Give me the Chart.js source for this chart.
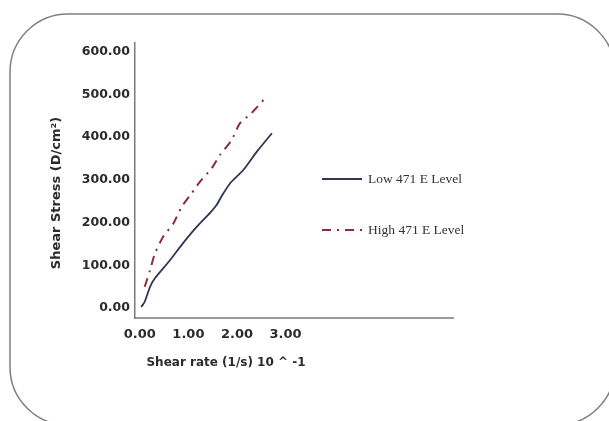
<!DOCTYPE html>
<html>
<head>
<meta charset="utf-8">
<title>Shear stress vs shear rate</title>
<script src="https://cdn.jsdelivr.net/npm/chart.js@4.4.0/dist/chart.umd.min.js"></script>
<style>
  html, body { margin: 0; padding: 0; background: #fff; }
  #wrap { width: 609px; height: 421px; }
</style>
</head>
<body>
<div id="wrap"><canvas id="chartShear" width="609" height="421"></canvas></div>
<script>
// values
var xTicks = [0, 1, 2, 3];
var yTicks = [0, 100, 200, 300, 400, 500, 600];
var lowRate    = [0.03, 0.10, 0.21, 0.31, 0.62, 0.89, 1.17, 1.44, 1.58, 1.68, 1.86, 2.13, 2.41, 2.72];
var lowStress  = [3, 15, 50, 70, 112, 152, 190, 222, 241, 261, 292, 323, 366, 409];
var highRate   = [0.10, 0.21, 0.31, 0.48, 0.69, 0.86, 1.07, 1.24, 1.48, 1.65, 1.89, 2.06, 2.30, 2.58];
var highStress = [50, 89, 128, 167, 198, 237, 269, 296, 327, 358, 393, 432, 456, 491];
var seriesNames = ['Low 471 E Level', 'High 471 E Level'];
var xTitle = 'Shear rate (1/s) 10 ^ -1';
var yTitle = 'Shear Stress (D/cm\u00B2)';

function toPoints(xs, ys) {
  return xs.map(function (x, i) { return { x: x, y: ys[i] }; });
}

// frame, legend and axis titles drawn around the chart
var extras = {
  id: 'extras',
  beforeDraw: function (chart) {
    var ctx = chart.ctx;
    ctx.save();
    ctx.beginPath();
    ctx.roundRect(10, 14, 605, 411, 58);
    ctx.strokeStyle = '#808080';
    ctx.lineWidth = 1.5;
    ctx.stroke();
    ctx.restore();
  },
  afterDraw: function (chart) {
    var ctx = chart.ctx;
    var rows = [179, 230];
    ctx.save();
    chart.data.datasets.forEach(function (ds, i) {
      ctx.beginPath();
      ctx.setLineDash(ds.borderDash || []);
      ctx.strokeStyle = ds.borderColor;
      ctx.lineWidth = ds.borderWidth;
      ctx.moveTo(322, rows[i]);
      ctx.lineTo(362, rows[i]);
      ctx.stroke();
      ctx.setLineDash([]);
      ctx.fillStyle = '#333';
      ctx.font = '13.5px "Liberation Serif"';
      ctx.textBaseline = 'middle';
      ctx.textAlign = 'left';
      ctx.fillText(ds.label, 368, rows[i]);
    });
    ctx.fillStyle = '#2b2b2b';
    ctx.textAlign = 'center';
    ctx.textBaseline = 'middle';
    ctx.font = 'bold 12px "DejaVu Sans"';
    ctx.fillText(xTitle, 226, 363);
    ctx.translate(57, 193);
    ctx.rotate(-Math.PI / 2);
    ctx.font = 'bold 13px "DejaVu Sans"';
    ctx.fillText(yTitle, 0, 0);
    ctx.restore();
  }
};

var ctx = document.getElementById('chartShear').getContext('2d');
var chart = new Chart(ctx, {
  type: 'scatter',
  data: {
    datasets: [{
      label: seriesNames[0],
      data: toPoints(lowRate, lowStress),
      showLine: true,
      borderColor: '#2f3552',
      borderWidth: 1.8,
      pointRadius: 0,
      tension: 0.2
    }, {
      label: seriesNames[1],
      data: toPoints(highRate, highStress),
      showLine: true,
      borderColor: '#8a2c3c',
      borderWidth: 2,
      borderDash: [9, 6, 2, 6],
      pointRadius: 0,
      tension: 0.2
    }]
  },
  options: {
    responsive: false,
    animation: false,
    layout: { padding: { top: 43, right: 156, bottom: 0, left: 0 } },
    plugins: {
      legend: { display: false },
      tooltip: { enabled: false }
    },
    scales: {
      x: {
        type: 'linear',
        min: -0.1,
        max: 6.45,
        grid: { display: false, drawTicks: false },
        border: { display: true, color: '#9a9a9a', width: 2 },
        afterBuildTicks: function (scale) {
          scale.ticks = xTicks.map(function (v) { return { value: v }; });
        },
        afterFit: function (scale) { scale.height = 103; },
        ticks: {
          padding: 9,
          color: '#2b2b2b',
          font: { family: 'DejaVu Sans', weight: 'bold', size: 13 },
          callback: function (v) { return Number(v).toFixed(2); }
        }
      },
      y: {
        type: 'linear',
        min: -23,
        max: 620,
        grid: { display: false, drawTicks: false },
        border: { display: true, color: '#7a7a7a', width: 1.5 },
        afterBuildTicks: function (scale) {
          scale.ticks = yTicks.map(function (v) { return { value: v }; });
        },
        afterFit: function (scale) { scale.width = 135; },
        ticks: {
          padding: 5,
          color: '#2b2b2b',
          font: { family: 'DejaVu Sans', weight: 'bold', size: 12.5 },
          callback: function (v) { return Number(v).toFixed(2); }
        }
      }
    }
  },
  plugins: [extras]
});
</script>
</body>
</html>
